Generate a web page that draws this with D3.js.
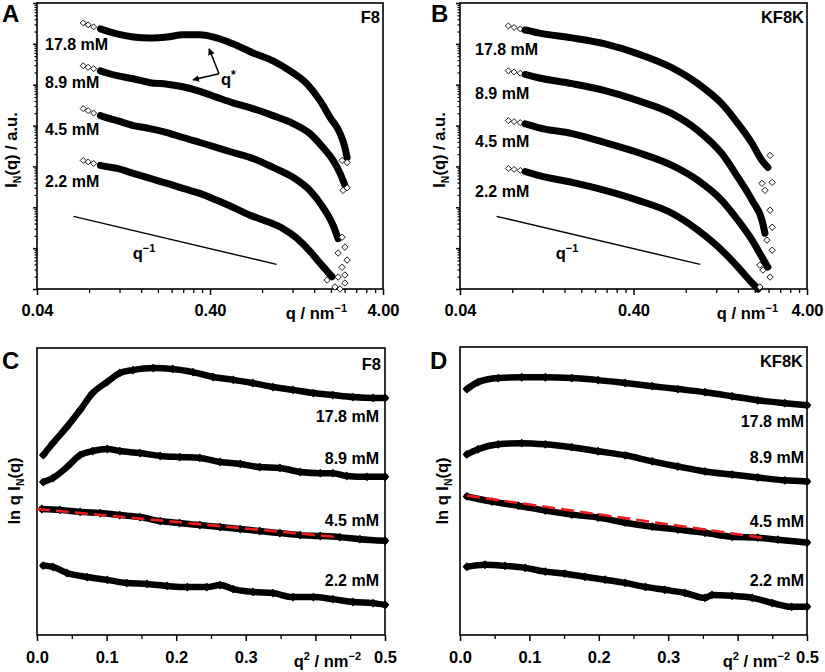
<!DOCTYPE html>
<html>
<head>
<meta charset="utf-8">
<script src="https://cdnjs.cloudflare.com/ajax/libs/d3/7.8.5/d3.min.js"></script>
<style>
body { margin:0; background:#fff; }
text { font-family: "Liberation Sans", Arial, sans-serif; font-weight: bold; fill:#000; }
</style>
</head>
<body>
<div id="fig"></div>
<script>
// ---- data ----
const concs = ["17.8 mM", "8.9 mM", "4.5 mM", "2.2 mM"];
const qTicks = [0.04, 0.4, 4];
const q2Ticks = [0, 0.1, 0.2, 0.3, 0.4, 0.5];
const q2Labels = ["0.0", "0.1", "0.2", "0.3", "", "0.5"];

// A: F8, I(q) vs q  [q nm^-1, I a.u.]
const f8_178 = [[0.074,3.25e6],[0.079,2.91e6],[0.085,2.60e6],[0.093,2.32e6],[0.103,2.02e6],[0.116,1.75e6],[0.144,1.48e6],[0.180,1.40e6],[0.226,1.48e6],[0.279,1.66e6],[0.350,1.66e6],[0.416,1.48e6],[0.543,1.0e6],[0.709,6.0e5],[0.925,3.85e5],[1.16,2.19e5],[1.45,1.06e5],[1.73,4.07e4],[1.98,1.57e4],[2.26,6.4e3],[2.41,2.9e3],[2.48,1.66e3]];
const f8_89 = [[0.074,2.91e5],[0.079,2.67e5],[0.085,2.46e5],[0.093,2.19e5],[0.103,1.91e5],[0.116,1.66e5],[0.144,1.40e5],[0.180,1.12e5],[0.226,1.03e5],[0.279,8.9e4],[0.350,6.9e4],[0.439,4.9e4],[0.543,3.6e4],[0.709,2.6e4],[0.925,1.75e4],[1.21,1.12e4],[1.51,6.4e3],[1.80,2.9e3],[2.06,1.40e3],[2.26,675],[2.41,344]];
const f8_45 = [[0.074,2.60e4],[0.079,2.32e4],[0.085,2.02e4],[0.093,1.75e4],[0.103,1.52e4],[0.116,1.32e4],[0.144,1.0e4],[0.180,8.45e3],[0.226,6.75e3],[0.279,5.1e3],[0.350,3.85e3],[0.439,2.9e3],[0.543,2.19e3],[0.709,1.57e3],[0.925,946],[1.21,539],[1.51,260],[1.80,100],[2.06,36],[2.20,17]];
const f8_22 = [[0.074,1.40e3],[0.079,1.29e3],[0.085,1.18e3],[0.093,1.06e3],[0.103,972],[0.116,893],[0.144,675],[0.180,510],[0.226,385],[0.279,290],[0.350,219],[0.439,148],[0.543,100],[0.681,64],[0.854,45],[1.06,30],[1.24,19],[1.51,8.5],[1.73,4.3],[2.03,2.0]];
const f8_tail178 = [[2.32,1.40e3],[2.48,1.25e3]];
const f8_tail89 = [[2.35,260],[2.48,300]];
const f8_tail45 = [[2.32,18.5],[2.41,10.6],[2.20,7.6],[2.48,5.1],[2.32,3.4],[2.41,2.2]];
const f8_tail22 = [[1.90,1.66],[2.20,1.96],[2.41,1.40],[2.11,1.12],[2.26,1.0]];

// B: KF8K, I(q) vs q
const kf_178 = [[0.076,2.75e6],[0.082,2.52e6],[0.089,2.32e6],[0.095,2.18e6],[0.101,2.07e6],[0.113,1.85e6],[0.177,1.40e6],[0.274,1.0e6],[0.425,5.7e5],[0.667,2.6e5],[0.941,1.06e5],[1.29,3.44e4],[1.60,1.12e4],[1.93,3.64e3],[2.20,1.40e3],[2.38,946]];
const kf_89 = [[0.076,2.19e5],[0.082,2.05e5],[0.089,1.91e5],[0.095,1.78e5],[0.101,1.66e5],[0.113,1.48e5],[0.177,1.06e5],[0.274,7.14e4],[0.425,4.07e4],[0.667,1.96e4],[0.941,7.55e3],[1.29,2.08e3],[1.60,539],[1.93,148],[2.20,48.2],[2.29,23.2]];
const kf_45 = [[0.076,1.32e4],[0.082,1.25e4],[0.089,1.18e4],[0.095,1.10e4],[0.101,1.03e4],[0.113,8.93e3],[0.177,6.38e3],[0.274,3.85e3],[0.425,2.19e3],[0.667,1.06e3],[0.941,456],[1.29,148],[1.60,48.2],[1.93,15.7],[2.20,6.03],[2.38,3.44]];
const kf_22 = [[0.076,893],[0.082,845],[0.089,798],[0.095,745],[0.101,694],[0.113,603],[0.177,407],[0.274,260],[0.425,148],[0.667,71.4],[0.941,27.5],[1.29,8.93],[1.60,3.44],[1.93,1.40],[2.09,1.0]];
const kf_tail178 = [[2.45,1.85e3],[2.20,385],[2.52,407],[2.29,260]];
const kf_tail89 = [[2.45,84.5],[2.52,32.5],[2.35,15.7]];
const kf_tail45 = [[2.52,8.9],[2.14,3.85]];
const kf_tail22 = [[2.23,2.9],[2.45,1.96],[2.14,1.12]];

// power law guide q^-1 (same in A and B)
const guideQ = [0.065, 0.97];
const guideI = [60, 4.0];

// C: F8, ln q I(q) vs q^2 (arbitrary offsets)
const f8g_178 = [[0.009,6.27],[0.023,6.69],[0.043,7.25],[0.062,7.84],[0.080,8.43],[0.101,8.82],[0.119,9.13],[0.138,9.23],[0.167,9.30],[0.195,9.27],[0.224,9.16],[0.253,8.99],[0.282,8.89],[0.310,8.78],[0.339,8.64],[0.368,8.54],[0.397,8.43],[0.425,8.36],[0.454,8.29],[0.483,8.26],[0.500,8.26]];
const f8g_89 = [[0.009,5.33],[0.023,5.47],[0.043,5.85],[0.062,6.27],[0.080,6.41],[0.101,6.48],[0.119,6.41],[0.148,6.34],[0.177,6.24],[0.205,6.20],[0.234,6.17],[0.263,6.03],[0.292,5.96],[0.320,5.85],[0.349,5.82],[0.378,5.68],[0.407,5.64],[0.425,5.64],[0.445,5.54],[0.474,5.51],[0.500,5.51]];
const f8g_45 = [[0.007,4.39],[0.033,4.36],[0.062,4.29],[0.091,4.25],[0.119,4.18],[0.148,4.11],[0.177,3.97],[0.205,3.90],[0.234,3.83],[0.263,3.76],[0.292,3.69],[0.320,3.62],[0.349,3.55],[0.378,3.48],[0.407,3.45],[0.435,3.41],[0.464,3.34],[0.500,3.28]];
const f8g_22 = [[0.009,2.42],[0.023,2.37],[0.043,2.16],[0.072,2.02],[0.101,1.92],[0.129,1.81],[0.158,1.78],[0.187,1.71],[0.216,1.67],[0.244,1.67],[0.263,1.74],[0.282,1.60],[0.310,1.50],[0.339,1.46],[0.368,1.32],[0.397,1.32],[0.425,1.25],[0.454,1.15],[0.483,1.11],[0.500,1.05]];
const f8fit = [[0,4.39],[0.433,3.41]];

// D: KF8K, ln q I(q) vs q^2
const kfg_178 = [[0.010,8.54],[0.026,8.78],[0.055,8.92],[0.089,8.95],[0.123,8.95],[0.161,8.92],[0.199,8.85],[0.238,8.75],[0.277,8.64],[0.314,8.54],[0.353,8.43],[0.392,8.29],[0.429,8.15],[0.468,8.05],[0.500,7.98]];
const kfg_89 = [[0.010,6.27],[0.026,6.45],[0.055,6.62],[0.089,6.66],[0.123,6.62],[0.161,6.52],[0.199,6.38],[0.238,6.24],[0.277,6.03],[0.314,5.85],[0.353,5.68],[0.392,5.57],[0.429,5.47],[0.468,5.37],[0.500,5.33]];
const kfg_45 = [[0.010,4.81],[0.046,4.63],[0.084,4.49],[0.123,4.32],[0.161,4.18],[0.199,4.08],[0.238,3.90],[0.277,3.76],[0.314,3.66],[0.353,3.55],[0.392,3.41],[0.429,3.38],[0.458,3.31],[0.500,3.21]];
const kfg_22 = [[0.010,2.37],[0.036,2.44],[0.065,2.40],[0.094,2.33],[0.123,2.20],[0.151,2.13],[0.180,2.02],[0.209,1.92],[0.238,1.81],[0.267,1.67],[0.295,1.57],[0.324,1.46],[0.353,1.29],[0.363,1.39],[0.392,1.36],[0.421,1.29],[0.450,1.11],[0.478,0.98],[0.500,0.98]];
const kffit = [[0.010,4.84],[0.435,3.38]];

// ---- layout ----
let W = 825, H = 672;
let svg = d3.select("#fig").append("svg").attr("width", W).attr("height", H);

svg.append("defs").append("marker").attr("id", "arr")
  .attr("viewBox", "0 0 10 10").attr("refX", 9).attr("refY", 5)
  .attr("markerWidth", 4.5).attr("markerHeight", 4.5).attr("orient", "auto")
  .append("path").attr("d", "M0,0L10,5L0,10Z").attr("fill", "#000");

function diamond(r) { return "M0," + (-r) + "L" + r + ",0L0," + r + "L" + (-r) + ",0Z"; }

function frame(g, p) {
  g.append("rect").attr("x", p.x0).attr("y", p.y0).attr("width", p.x1 - p.x0).attr("height", p.y1 - p.y0)
    .attr("fill", "none").attr("stroke", "#000").attr("stroke-width", 1.6);
}

function letter(g, s, x, y) {
  g.append("text").attr("x", x).attr("y", y).attr("font-size", 24).text(s);
}

/* log-log SAXS panel (A, B) */
function drawSaxs(p, series, tails, info) {
  let g = svg.append("g");
  let x = d3.scaleLog().domain([0.04, 4]).range([p.x0, p.x1]);
  let y = d3.scaleLog().domain([1, 1e7]).range([p.y1, p.y0]);

  // x ticks: majors + minors at k*0.04, k*0.4
  let xMinor = [];
  for (let k = 2; k <= 9; k++) { xMinor.push(0.04 * k, 0.4 * k); }
  let ax = g.append("g").attr("transform", "translate(0," + p.y1 + ")")
    .call(d3.axisBottom(x).tickValues(qTicks).tickSize(6).tickPadding(9).tickFormat(d3.format(".2f")));
  ax.select(".domain").remove();
  ax.selectAll("line").attr("stroke-width", 1.5);
  ax.selectAll("text").attr("font-size", 16.5).attr("font-family", null);
  let axm = g.append("g").attr("transform", "translate(0," + p.y1 + ")")
    .call(d3.axisBottom(x).tickValues(xMinor).tickSize(4).tickFormat(""));
  axm.select(".domain").remove();
  axm.selectAll("line").attr("stroke-width", 1.3);

  // y ticks (log, no labels)
  let yMaj = [], yMin = [];
  for (let e = 0; e <= 7; e++) {
    yMaj.push(Math.pow(10, e));
    if (e < 7) for (let k = 2; k <= 9; k++) yMin.push(k * Math.pow(10, e));
  }
  let ay = g.append("g").attr("transform", "translate(" + p.x0 + ",0)")
    .call(d3.axisLeft(y).tickValues(yMaj).tickSize(4).tickFormat(""));
  ay.select(".domain").remove();
  ay.selectAll("line").attr("stroke-width", 1.5);
  let aym = g.append("g").attr("transform", "translate(" + p.x0 + ",0)")
    .call(d3.axisLeft(y).tickValues(yMin).tickSize(2.5).tickFormat(""));
  aym.select(".domain").remove();
  aym.selectAll("line").attr("stroke-width", 1.2);
  frame(g, p);

  let line = d3.line().x(d => x(d[0])).y(d => y(d[1])).curve(d3.curveMonotoneX);

  series.forEach((s, i) => {
    // sparse low-q points as open diamonds, drawn under the band
    g.selectAll(null).data(s.filter(d => d[0] < 0.1)).enter().append("path")
      .attr("d", diamond(3))
      .attr("transform", d => "translate(" + x(d[0]) + "," + y(d[1]) + ")")
      .attr("fill", "#fff").attr("stroke", "#000").attr("stroke-width", 0.9);
    // dense points merge into a thick band
    g.append("path").attr("d", line(s.filter(d => d[0] >= 0.09)))
      .attr("fill", "none").attr("stroke", "#000").attr("stroke-width", 7)
      .attr("stroke-linecap", "round").attr("stroke-linejoin", "round");
    g.selectAll(null).data(tails[i]).enter().append("path")
      .attr("d", diamond(3.2))
      .attr("transform", d => "translate(" + x(d[0]) + "," + y(d[1]) + ")")
      .attr("fill", "#fff").attr("stroke", "#000").attr("stroke-width", 0.9);
  });

  // q^-1 guide
  g.append("line").attr("x1", x(guideQ[0])).attr("y1", y(guideI[0]))
    .attr("x2", x(guideQ[1])).attr("y2", y(guideI[1])).attr("stroke", "#000").attr("stroke-width", 1.4);
  let gt = g.append("text").attr("x", info.guideX).attr("y", 259).attr("text-anchor", "middle").attr("font-size", 16.5);
  gt.append("tspan").text("q");
  gt.append("tspan").attr("dy", -7).attr("font-size", 11).text("\u22121");

  // concentration labels
  concs.forEach((c, i) => {
    g.append("text").attr("x", info.labX).attr("y", info.labY[i]).attr("font-size", 16).text(c);
  });
  g.append("text").attr("x", p.x1 - 3).attr("y", 23).attr("text-anchor", "end").attr("font-size", 16.5).text(info.name);

  // axis titles
  let xt = g.append("text").attr("x", info.xtEnd).attr("y", 319).attr("text-anchor", "end").attr("font-size", 16.5);
  xt.append("tspan").text("q / nm");
  xt.append("tspan").attr("dy", -7).attr("font-size", 11).text("\u22121");

  let yt = g.append("text").attr("transform", "translate(" + info.ytX + ",150) rotate(-90)")
    .attr("text-anchor", "middle").attr("font-size", 16.5);
  yt.append("tspan").text("I");
  yt.append("tspan").attr("dy", 4).attr("font-size", 10.5).text("N");
  yt.append("tspan").attr("dy", -4).text("(q) / a.u.");
  letter(g, info.letter, info.letX, 22);
  return { x: x, y: y, g: g };
}

/* Guinier-type panel (C, D) */
function drawGuin(p, series, fit, info) {
  let g = svg.append("g");
  let x = d3.scaleLinear().domain([0, 0.5]).range([p.x0, p.x1]);
  let y = d3.scaleLinear().domain([0, 10]).range([p.y1, p.y0]);

  let ax = g.append("g").attr("transform", "translate(0," + p.y1 + ")")
    .call(d3.axisBottom(x).tickValues(q2Ticks).tickSize(6).tickPadding(10).tickFormat((d, i) => q2Labels[i]));
  ax.select(".domain").remove();
  ax.selectAll("line").attr("stroke-width", 1.5);
  ax.selectAll("text").attr("font-size", 16.5).attr("font-family", null);
  let axm = g.append("g").attr("transform", "translate(0," + p.y1 + ")")
    .call(d3.axisBottom(x).tickValues([0.05, 0.15, 0.25, 0.35, 0.45]).tickSize(4).tickFormat(""));
  axm.select(".domain").remove();
  axm.selectAll("line").attr("stroke-width", 1.3);
  frame(g, p);

  let line = d3.line().x(d => x(d[0])).y(d => y(d[1])).curve(d3.curveMonotoneX);
  series.forEach(s => {
    g.append("path").attr("d", line(s)).attr("fill", "none").attr("stroke", "#000")
      .attr("stroke-width", 6.5).attr("stroke-linecap", "round").attr("stroke-linejoin", "round");
    g.selectAll(null).data(s).enter().append("path")
      .attr("d", diamond(4.4))
      .attr("transform", d => "translate(" + x(d[0]) + "," + y(d[1]) + ")")
      .attr("fill", "#000");
  });

  // linear fit on 4.5 mM
  g.append("line").attr("x1", x(fit[0][0])).attr("y1", y(fit[0][1]))
    .attr("x2", x(fit[1][0])).attr("y2", y(fit[1][1]))
    .attr("stroke", "#ee1c1c").attr("stroke-width", 2.6).attr("stroke-dasharray", "13,6");

  concs.forEach((c, i) => {
    g.append("text").attr("x", info.labX).attr("y", info.labY[i]).attr("text-anchor", "end")
      .attr("font-size", 16).text(c);
  });
  g.append("text").attr("x", p.x1 - 4).attr("y", info.nameY).attr("text-anchor", "end").attr("font-size", 16.5).text(info.name);

  let xt = g.append("text").attr("x", info.xtEnd).attr("y", 667).attr("text-anchor", "end").attr("font-size", 16.5);
  xt.append("tspan").text("q");
  xt.append("tspan").attr("dy", -7).attr("font-size", 11).text("2");
  xt.append("tspan").attr("dy", 7).text(" / nm");
  xt.append("tspan").attr("dy", -7).attr("font-size", 11).text("\u22122");

  let yt = g.append("text").attr("transform", "translate(" + info.ytX + ",491) rotate(-90)")
    .attr("text-anchor", "middle").attr("font-size", 16.5);
  yt.append("tspan").text("ln q I");
  yt.append("tspan").attr("dy", 4).attr("font-size", 10.5).text("N");
  yt.append("tspan").attr("dy", -4).text("(q)");
  letter(g, info.letter, info.letX, 369);
}

let pA = drawSaxs({ x0: 37, x1: 383, y0: 3, y1: 289 }, [f8_178, f8_89, f8_45, f8_22],
  [f8_tail178, f8_tail89, f8_tail45, f8_tail22],
  { name: "F8", letter: "A", letX: 2, labX: 45, labY: [50, 88, 135, 187], guideX: 144, xtEnd: 347, ytX: 17 });

// q* arrows (A)
let ax0 = pA.x(0.451), ay0 = pA.y(1.85e5);
[[0.395, 7.55e5], [0.319, 1.32e5]].forEach(t => {
  pA.g.append("line").attr("x1", ax0).attr("y1", ay0).attr("x2", pA.x(t[0])).attr("y2", pA.y(t[1]))
    .attr("stroke", "#000").attr("stroke-width", 1.5).attr("marker-end", "url(#arr)");
});
let qs = pA.g.append("text").attr("x", ax0 + 2).attr("y", ay0 + 11).attr("font-size", 16.5);
qs.append("tspan").text("q");
qs.append("tspan").attr("dy", -6).attr("font-size", 12).text("*");

drawSaxs({ x0: 460, x1: 807, y0: 3, y1: 289 }, [kf_178, kf_89, kf_45, kf_22],
  [kf_tail178, kf_tail89, kf_tail45, kf_tail22],
  { name: "KF8K", letter: "B", letX: 431, labX: 475, labY: [55, 99, 147, 197], guideX: 567, xtEnd: 778, ytX: 445 });

drawGuin({ x0: 37, x1: 385, y0: 348, y1: 635 }, [f8g_178, f8g_89, f8g_45, f8g_22], f8fit,
  { name: "F8", nameY: 370, letter: "C", letX: 2, labX: 379, labY: [422, 464, 526, 586], xtEnd: 361, ytX: 20 });

drawGuin({ x0: 460, x1: 807, y0: 347, y1: 635 }, [kfg_178, kfg_89, kfg_45, kfg_22], kffit,
  { name: "KF8K", nameY: 367, letter: "D", letX: 430, labX: 804, labY: [427, 463, 527, 586], xtEnd: 790, ytX: 448 });
</script>
</body>
</html>
